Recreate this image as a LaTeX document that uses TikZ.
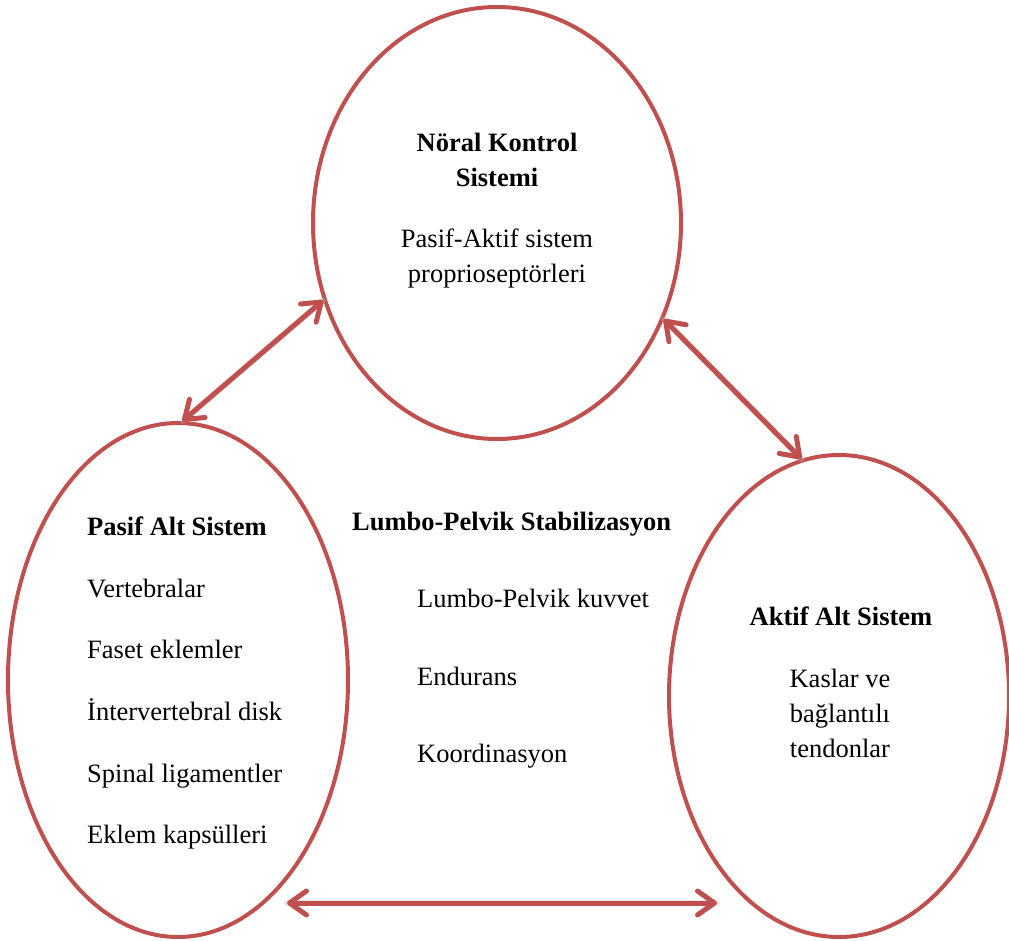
\documentclass[tikz,border=0pt]{standalone}
\usepackage{fontspec}
\setmainfont{Liberation Serif}
\usetikzlibrary{arrows.meta,shapes.geometric}
\definecolor{accred}{HTML}{C0504D}
\tikzset{
  ring/.style={draw=accred, line width=4pt, ellipse, inner sep=0pt},
  link/.style={draw=accred, line width=5pt, line cap=round,
    {Straight Barb[length=17pt,width=24pt,round]}-{Straight Barb[length=17pt,width=24pt,round]}},
  linkshadow/.style={draw=black!30, opacity=0.35, line width=6pt, line cap=round},
  txt/.style={inner sep=0pt, font=\fontsize{26.5}{31}\selectfont},
  hd/.style={txt, font=\fontsize{26.5}{31}\selectfont\bfseries},
}
\begin{document}
\begin{tikzpicture}[x=1pt,y=-1pt]
\useasboundingbox (0,0) rectangle (1009,941);
% ellipses
\node[ring, minimum width=368pt, minimum height=432pt] (top) at (497,223) {};
\node[ring, minimum width=340pt, minimum height=514pt] (left) at (178,680) {};
\node[ring, minimum width=340pt, minimum height=482pt] (right) at (839,696) {};
% arrow end coordinates
\coordinate (tl) at (top.204.7);
\coordinate (lt) at (left.89.5);
\coordinate (tr) at (top.330.3);
\coordinate (rt) at (right.99.1);
\coordinate (bl) at (287,903);
\coordinate (br) at (717,903);
% shadows
\begin{scope}[shift={(2,4)}]
\draw[linkshadow] (lt) -- (tl);
\draw[linkshadow] (tr) -- (rt);
\draw[linkshadow] (bl) -- (br);
\end{scope}
% arrows
\draw[link] (lt) -- (tl);
\draw[link] (tr) -- (rt);
\draw[link] (bl) -- (br);
% top text
\node[hd, anchor=base] (t1) at (497,152) {Nöral Kontrol};
\node[hd, anchor=base] (t2) at (497,187) {Sistemi};
\node[txt, anchor=base] (t3) at (497,248) {Pasif-Aktif sistem};
\node[txt, anchor=base] (t4) at (497,283) {proprioseptörleri};
% left text
\node[hd, anchor=base west] (l0) at (87,535) {Pasif Alt Sistem};
\node[txt, anchor=base west] (l1) at (87,597) {Vertebralar};
\node[txt, anchor=base west] (l2) at (87,658) {Faset eklemler};
\node[txt, anchor=base west] (l3) at (87,720) {İntervertebral disk};
\node[txt, anchor=base west] (l4) at (87,782) {Spinal ligamentler};
\node[txt, anchor=base west] (l5) at (87,843) {Eklem kapsülleri};
% middle text
\node[hd, anchor=base west] (m0) at (352,530) {Lumbo-Pelvik Stabilizasyon};
\node[txt, anchor=base west] (m1) at (417,607) {Lumbo-Pelvik kuvvet};
\node[txt, anchor=base west] (m2) at (417,685) {Endurans};
\node[txt, anchor=base west] (m3) at (417,762) {Koordinasyon};
% right text
\node[hd, anchor=base] (r0) at (841,625) {Aktif Alt Sistem};
\node[txt, anchor=base] (r1) at (840,687) {Kaslar ve};
\node[txt, anchor=base] (r2) at (840,722) {bağlantılı};
\node[txt, anchor=base] (r3) at (840,757) {tendonlar};
\end{tikzpicture}
\end{document}
